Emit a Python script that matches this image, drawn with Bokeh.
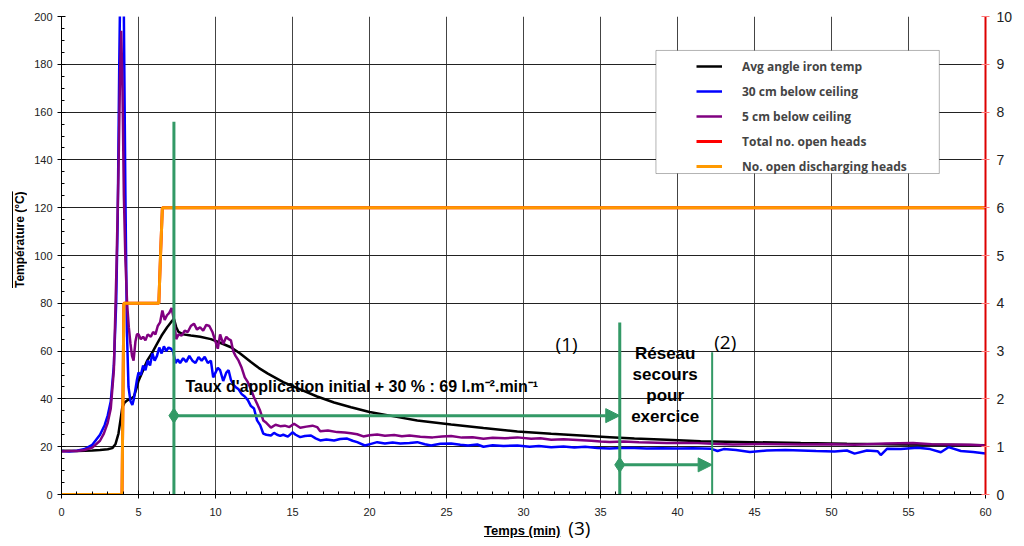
from bokeh.plotting import figure
from bokeh.layouts import column
from bokeh.models import (Range1d, LinearAxis, SingleIntervalTicker, FixedTicker, Legend, LegendItem,
                          Label, Arrow, NormalHead, BoxAnnotation, Div)
from bokeh.embed import file_html
from bokeh.resources import INLINE

# ---------------- data ----------------
time_black = [0, 1, 2, 2.5, 3.0, 3.3, 3.5, 3.7, 3.85, 3.95, 4.1, 4.3, 4.5, 4.7, 4.85, 5.0, 5.3, 5.56,
              5.9, 6.2, 6.5, 6.86, 7.1, 7.3, 7.45, 7.6, 7.9, 8.4, 9.0, 9.7, 10.3, 11.0, 11.6, 12.3,
              12.8, 13.4, 14.4, 15.5, 16.6, 17.7, 18.8, 20.0, 21.5, 23.1, 25.3, 27.4, 29.6, 31.8,
              34.0, 35.6, 37.2, 39.3, 41.5, 44.0, 48.0, 51.0, 54.5, 57.0, 60]
temp_black = [18.3, 18.2, 18.4, 18.6, 18.9, 19.4, 21, 25.5, 32, 36.5, 38.5, 39.5, 40, 41, 44, 47.5,
              52, 56, 59.5, 63, 66.5, 70, 72, 73.5, 70, 68, 67, 66.5, 66, 65, 63.5, 61.6, 59, 55.4,
              53, 50.6, 47, 44, 41, 38.5, 36.5, 34.5, 32.8, 31, 29.3, 27.8, 26.4, 25.4, 24.6, 24.0,
              23.4, 22.9, 22.3, 22.0, 21.5, 21.2, 20.9, 20.8, 20.6]

time_blue = [0, 0.5, 1.0, 1.5, 2.0, 2.5, 2.8, 3.0, 3.2, 3.4, 3.55, 3.65, 3.75, 3.85, 3.95, 4.05, 4.15,
             4.25, 4.35, 4.48, 4.6, 4.7, 4.8, 4.9, 5.0, 5.15, 5.3, 5.45, 5.6, 5.75, 5.9, 6.05, 6.2,
             6.35, 6.5, 6.65, 6.8, 6.95, 7.1, 7.25, 7.4, 7.55, 7.7, 7.9, 8.1, 8.3, 8.5, 8.7, 8.9,
             9.1, 9.3, 9.5, 9.7, 9.85, 10.0, 10.15, 10.3, 10.5, 10.7, 10.85, 11.0, 11.15, 11.3,
             11.5, 11.7, 11.9, 12.1, 12.3, 12.5, 12.7, 12.9, 13.1, 13.3, 13.6, 13.8, 14.0, 14.2,
             14.4, 14.7, 15.0, 15.2, 15.5, 15.8, 16.2, 16.5, 16.8, 17.2, 17.7, 18.1, 18.55, 18.9,
             19.2, 19.7, 20.1, 20.5, 21.0, 21.5, 22.0, 22.6, 23.1, 23.6, 24.0, 24.6, 25.3, 25.9,
             26.4, 27.0, 27.4, 28.0, 28.7, 29.6, 30.4, 31.0, 31.8, 32.6, 33.3, 34.0, 34.8, 35.6,
             36.3, 37.2, 38.0, 39.0, 40.0, 41.0, 42.2, 42.6, 43.0, 43.8, 44.7, 45.8, 47.0, 48.0,
             49.0, 50.2, 51.0, 51.5, 52.3, 53.0, 53.2, 53.6, 54.5, 55.6, 56.4, 57.1, 57.6, 58.4,
             59.2, 60]
temp_blue = [18.2, 18.0, 18.3, 19.0, 20.8, 25, 29, 33, 39, 54, 80, 115, 180, 230, 240, 200, 125,
             68, 45, 39, 37.5, 40, 44, 48, 51, 50, 54, 52, 56, 54, 59, 56, 58, 61.5, 59, 62, 60,
             61.5, 61, 60, 55, 56.5, 55, 57, 55.5, 58, 56, 55, 57.5, 56, 57.6, 55, 56, 49, 51, 53,
             52, 47.5, 51, 52, 48, 46, 45, 44, 42, 41, 39.5, 37, 36, 31, 29, 25.5, 25, 24.7, 25.8,
             25, 24.5, 25, 24.2, 26, 25, 24, 24.5, 24.7, 23.5, 22.6, 23, 22.6, 23.2, 23.4, 22.5,
             21.9, 20.5, 21.2, 21.9, 21.3, 21.8, 21.3, 21.5, 21.9, 21, 20.5, 21.2, 21.3, 20.8,
             20.5, 20.9, 20, 20.6, 20.3, 20.5, 20, 20.3, 19.8, 20.1, 19.7, 20, 19.5, 19.2, 19.5,
             19.5, 19.2, 19.4, 19.2, 19.3, 19.1, 18.2, 19.0, 18.6, 17.8, 18.4, 18.6, 18.4, 18.2,
             18.0, 18.4, 17.1, 18.4, 18.1, 16.5, 19.1, 19.0, 19.6, 19.0, 17.7, 19.8, 18.2, 17.8,
             17.2]

time_purple = [0, 0.5, 1.0, 1.5, 2.0, 2.5, 2.75, 3.0, 3.2, 3.4, 3.57, 3.7, 3.8, 3.88, 3.96, 4.05,
               4.15, 4.26, 4.37, 4.48, 4.58, 4.68, 4.8, 4.9, 5.0, 5.15, 5.3, 5.45, 5.6, 5.8, 5.95,
               6.1, 6.25, 6.4, 6.55, 6.7, 6.85, 7.0, 7.15, 7.3, 7.45, 7.6, 7.8, 8.0, 8.2, 8.4, 8.6,
               8.8, 9.0, 9.2, 9.4, 9.6, 9.8, 10.0, 10.15, 10.3, 10.5, 10.7, 10.85, 11.0, 11.15,
               11.3, 11.5, 11.7, 11.9, 12.1, 12.3, 12.5, 12.7, 12.9, 13.1, 13.3, 13.6, 13.9, 14.2,
               14.5, 14.8, 15.1, 15.5, 15.9, 16.3, 16.6, 16.8, 17.3, 17.9, 18.4, 18.8, 19.2, 19.6,
               20.0, 20.5, 21.0, 21.6, 22.1, 22.6, 23.3, 24.1, 24.7, 25.3, 26.0, 26.7, 27.4, 28.0,
               28.8, 29.6, 30.5, 31.1, 31.8, 32.6, 33.5, 34.4, 35.0, 35.6, 36.5, 37.5, 39.3, 41.0,
               42.3, 43.6, 45.5, 48.0, 50.0, 51.5, 53.5, 55.3, 56.5, 57.7, 59.0, 60]
temp_purple = [18.0, 18.2, 18.2, 18.6, 19.6, 22.5, 25.5, 30, 36, 52, 95, 135, 175, 194, 170, 125,
               98, 80, 70, 63, 58, 56, 64, 67, 67, 65, 66, 64.5, 67, 66, 68, 67, 70.5, 72, 77, 73,
               75, 76, 78, 73, 65, 67, 66.5, 68.5, 68, 70.5, 71.5, 69, 70, 68.5, 71, 70.5, 68, 64,
               61, 67, 63, 66, 65, 64.5, 60, 58, 56, 53, 49, 47, 44, 40.7, 38, 35, 31, 30, 28,
               29.2, 28.6, 28.8, 28.2, 29.6, 27.9, 28.4, 28.8, 28.2, 26.5, 26.8, 26.1, 25.9, 25.6,
               25.2, 24.3, 24.8, 25.1, 24.6, 24.9, 24.4, 24.7, 24.2, 23.9, 24.3, 24.5, 23.8, 24.0,
               23.3, 23.7, 23.5, 23.9, 23.3, 23.5, 22.9, 23.1, 22.8, 22.5, 22.2, 22.0, 22.2, 21.9,
               21.5, 21.6, 21.2, 20.9, 21.1, 20.9, 21.0, 20.8, 21.3, 21.5, 21.0, 20.9, 20.8, 20.5]

time_heads = [0, 3.93, 4.05, 6.32, 6.43, 6.55, 60]
total_open_heads = [0, 0, 4, 4, 5, 6, 6]
open_discharging_heads = [0, 0, 4, 4, 5, 6, 6]

# annotation positions (minutes / °C)
mark_x = [7.3, 36.25, 42.25]
mark_top = [156, 72, 59.5]
arrow_y = [33, 12.4]

GREEN = "#339966"
p = figure(width=1024, height=546, x_range=Range1d(0, 60), y_range=Range1d(0, 200),
           output_backend="svg", toolbar_location=None,
           min_border_left=61, min_border_right=39, min_border_top=16, min_border_bottom=52)
p.outline_line_color = None
p.background_fill_color = "white"

p.extra_y_ranges = {"heads": Range1d(0, 10)}

# axes
p.xaxis.ticker = SingleIntervalTicker(interval=5, num_minor_ticks=5)
p.yaxis.ticker = SingleIntervalTicker(interval=20, num_minor_ticks=4)
for ax in (p.xaxis[0], p.yaxis[0]):
    ax.axis_line_color = "black"
    ax.major_tick_line_color = "black"
    ax.minor_tick_line_color = "black"
    ax.major_tick_in = 4
    ax.major_tick_out = 4
    ax.minor_tick_in = 3
    ax.minor_tick_out = 0
    ax.major_label_text_font = "Liberation Sans"
    ax.major_label_text_font_size = "11px"
    ax.major_label_text_color = "#222222"
p.xaxis.major_label_standoff = 9
p.yaxis.major_label_standoff = 5

rax = LinearAxis(y_range_name="heads", ticker=FixedTicker(ticks=list(range(11))))
rax.axis_line_color = "#dd0000"
rax.axis_line_width = 2
rax.major_tick_line_color = "#ff7777"
rax.major_tick_in = 4
rax.major_tick_out = 4
rax.minor_tick_line_color = None
rax.major_label_text_font = "Liberation Sans"
rax.major_label_text_font_size = "14px"
rax.major_label_text_color = "#222222"
rax.major_label_standoff = 7
p.add_layout(rax, "right")

p.xgrid.grid_line_color = "#444444"
p.ygrid.grid_line_color = "#222222"
p.xgrid.grid_line_width = 1
p.ygrid.grid_line_width = 1

# series
r_black = p.line(time_black, temp_black, line_color="black", line_width=2.5)
r_blue = p.line(time_blue, temp_blue, line_color="#0000ff", line_width=2.5)
r_purple = p.line(time_purple, temp_purple, line_color="#800080", line_width=2.5)
r_red = p.line(time_heads, total_open_heads, line_color="#ff0000", line_width=3, y_range_name="heads")
r_orange = p.line(time_heads, open_discharging_heads, line_color="#ff9900", line_width=3, y_range_name="heads")

# green annotation marks
p.segment(x0=mark_x, y0=[0, 0, 0], x1=mark_x, y1=mark_top, line_color=GREEN, line_width=[3, 3, 2])
p.add_layout(Arrow(end=NormalHead(size=14, fill_color=GREEN, line_color=GREEN),
                   x_start=mark_x[0], y_start=arrow_y[0], x_end=mark_x[1], y_end=arrow_y[0],
                   line_color=GREEN, line_width=3))
p.add_layout(Arrow(end=NormalHead(size=14, fill_color=GREEN, line_color=GREEN),
                   x_start=mark_x[1], y_start=arrow_y[1], x_end=mark_x[2], y_end=arrow_y[1],
                   line_color=GREEN, line_width=3))
p.scatter(x=mark_x[:2], y=arrow_y, marker="diamond", size=15, color=GREEN)

# texts
def lab(x, y, text, size, bold=False, font="Liberation Sans", align="left"):
    p.add_layout(Label(x=x, y=y, text=text, text_font=font,
                       text_font_size=size, text_font_style="bold" if bold else "normal",
                       text_align=align, text_baseline="middle", text_color="black"))

lab(8.05, 45, "Taux d'application initial + 30 % : 69 l.m⁻².min⁻¹", "16px", bold=True)
for yy, tt in zip([59, 50.2, 41.4, 32.6], ["Réseau", "secours", "pour", "exercice"]):
    lab(39.2, yy, tt, "17px", bold=True, align="center")
lab(32.8, 63, "(1)", "19px", font="Open Sans", align="center")
lab(43.1, 64, "(2)", "19px", font="Open Sans", align="center")

# legend box
p.add_layout(BoxAnnotation(left=38.6, right=57.0, top=185.8, bottom=134.3,
                           fill_color="white", fill_alpha=1, line_color="black", line_width=1))
legend = Legend(items=[
    LegendItem(label="Avg angle iron temp", renderers=[r_black]),
    LegendItem(label="30 cm below ceiling", renderers=[r_blue]),
    LegendItem(label="5 cm below ceiling", renderers=[r_purple]),
    LegendItem(label="Total no. open heads", renderers=[r_red]),
    LegendItem(label="No. open discharging heads", renderers=[r_orange]),
], location=(635, 318), padding=4, spacing=5, label_height=20, glyph_height=20, glyph_width=26,
    label_standoff=20, background_fill_alpha=0, border_line_color=None,
    label_text_font="Open Sans", label_text_font_style="bold", label_text_font_size="12px")
p.add_layout(legend, "center")

# underlined axis titles laid over the figure's margins
ytitle = Div(text='<div style="writing-mode:vertical-rl;transform:rotate(180deg);height:100px;'
                  'line-height:16px;text-align:center;font-family:\'Liberation Sans\';'
                  'font-weight:bold;font-size:12px;text-decoration:underline;'
                  'text-underline-position:right;color:black;'
                  'white-space:nowrap">Température (°C)</div>',
             width=16, height=100, margin=(-356, 0, 0, 12))
xtitle = Div(text='<span style="font-family:\'Liberation Sans\';font-weight:bold;font-size:13px;'
                  'text-decoration:underline;color:black">Temps (min)</span>'
                  '<span style="font-family:\'Open Sans\';font-size:19px;color:black;'
                  'margin-left:8px">(3)</span>',
             width=200, height=26, margin=(225, 0, 0, 484))

open("out.html", "w").write(file_html(column(p, ytitle, xtitle), INLINE))
